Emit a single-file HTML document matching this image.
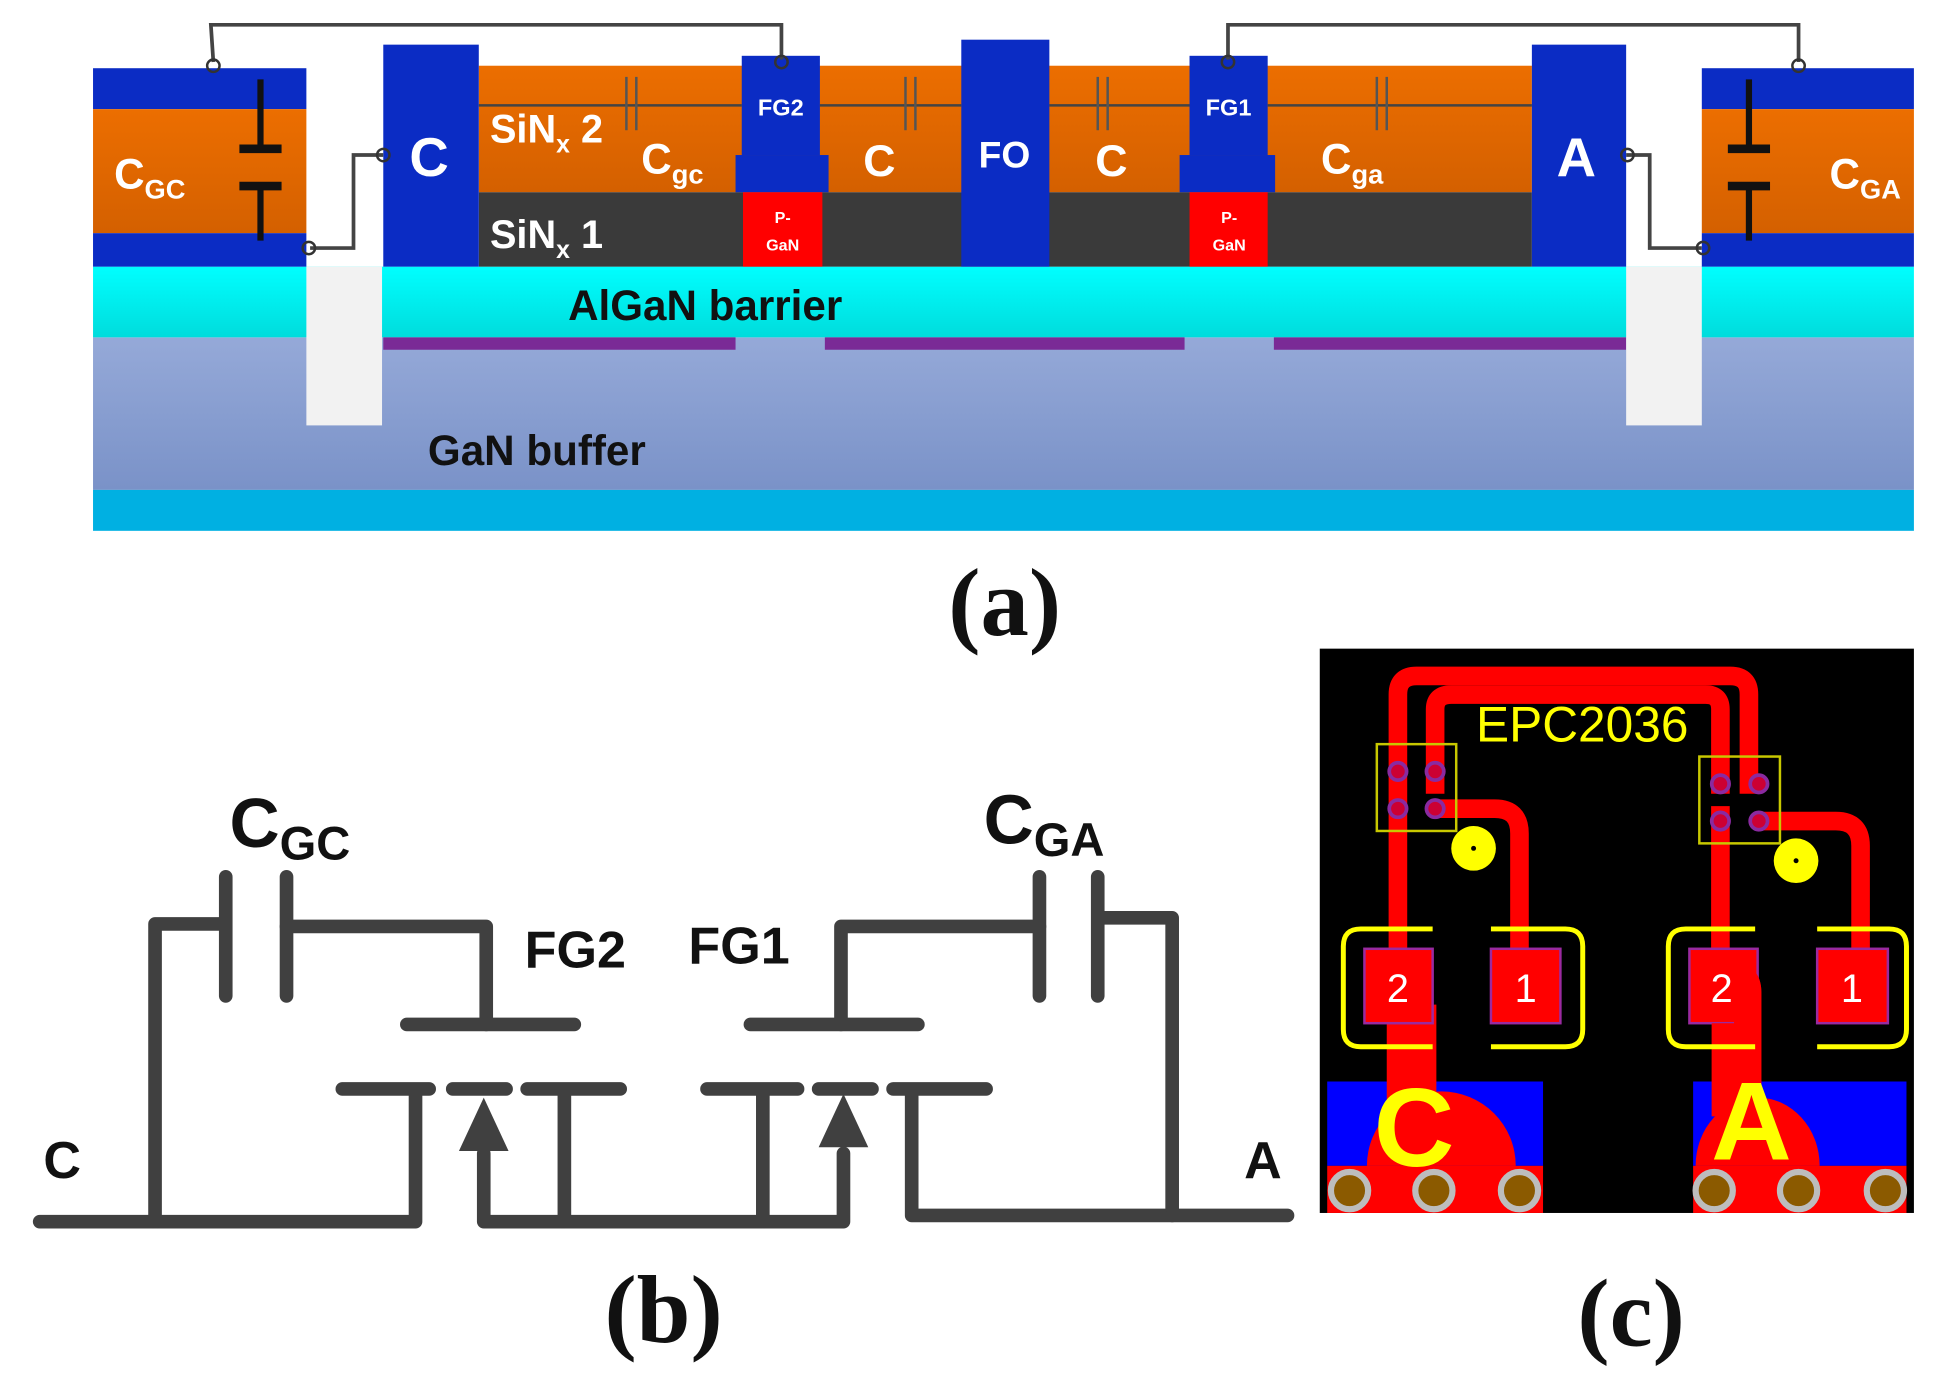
<!DOCTYPE html>
<html><head><meta charset="utf-8"><style>
html,body{margin:0;padding:0;background:#fff;width:1935px;height:1399px;overflow:hidden}
svg{display:block}
.w{font-family:"Liberation Sans",sans-serif;font-weight:bold;fill:#fff}
.k{font-family:"Liberation Sans",sans-serif;font-weight:bold;fill:#111}
.cap{font-family:"Liberation Serif",serif;font-weight:bold;fill:#111}
</style></head><body>
<svg width="1935" height="1399" viewBox="0 0 1560 1128" preserveAspectRatio="none" xmlns="http://www.w3.org/2000/svg">
<defs>
<linearGradient id="gb" x1="0" y1="0" x2="0" y2="1"><stop offset="0" stop-color="#95a9d8"/><stop offset="1" stop-color="#7a92c8"/></linearGradient>
<linearGradient id="cy" x1="0" y1="0" x2="0" y2="1"><stop offset="0" stop-color="#00ffff"/><stop offset="1" stop-color="#00dcdc"/></linearGradient>
<linearGradient id="or" x1="0" y1="0" x2="0" y2="1"><stop offset="0" stop-color="#ec6e00"/><stop offset="1" stop-color="#d46000"/></linearGradient>
</defs>
<rect x="75" y="272" width="1468" height="123" fill="url(#gb)"/>
<rect x="75" y="395" width="1468" height="33" fill="#00b0e2"/>
<rect x="75" y="215" width="1468" height="57" fill="url(#cy)"/>
<rect x="309" y="272" width="284" height="10" fill="#7a2a96"/>
<rect x="665" y="272" width="290" height="10" fill="#7a2a96"/>
<rect x="1027" y="272" width="284" height="10" fill="#7a2a96"/>
<rect x="247" y="215" width="61" height="128" fill="#f2f2f2"/>
<rect x="1311" y="215" width="61" height="128" fill="#f2f2f2"/>
<rect x="75" y="55" width="172" height="33" fill="#0b2cc4"/>
<rect x="75" y="88" width="172" height="100" fill="url(#or)"/>
<rect x="75" y="188" width="172" height="27" fill="#0b2cc4"/>
<rect x="1372" y="55" width="171" height="33" fill="#0b2cc4"/>
<rect x="1372" y="88" width="171" height="100" fill="url(#or)"/>
<rect x="1372" y="188" width="171" height="27" fill="#0b2cc4"/>
<rect x="386" y="53" width="849" height="102" fill="url(#or)"/>
<rect x="386" y="155" width="849" height="60" fill="#3a3a3a"/>
<rect x="309" y="36" width="77" height="179" fill="#0b2cc4"/>
<rect x="1235" y="36" width="76" height="179" fill="#0b2cc4"/>
<rect x="775" y="32" width="71" height="183" fill="#0b2cc4"/>
<rect x="598" y="45" width="63" height="80" fill="#0b2cc4"/>
<rect x="593" y="125" width="75" height="30" fill="#0b2cc4"/>
<rect x="599" y="155" width="64" height="60" fill="#ff0000"/>
<rect x="959" y="45" width="63" height="80" fill="#0b2cc4"/>
<rect x="951" y="125" width="77" height="30" fill="#0b2cc4"/>
<rect x="959" y="155" width="63" height="60" fill="#ff0000"/>
<g stroke="#444" stroke-width="2" fill="none">
<line x1="386" y1="85" x2="598" y2="85"/><line x1="661" y1="85" x2="775" y2="85"/>
<line x1="846" y1="85" x2="959" y2="85"/><line x1="1022" y1="85" x2="1235" y2="85"/>
</g>
<g stroke="#555" stroke-width="2">
<line x1="505" y1="62" x2="505" y2="105"/><line x1="513" y1="62" x2="513" y2="105"/>
<line x1="730" y1="62" x2="730" y2="105"/><line x1="738" y1="62" x2="738" y2="105"/>
<line x1="885" y1="62" x2="885" y2="105"/><line x1="893" y1="62" x2="893" y2="105"/>
<line x1="1110" y1="62" x2="1110" y2="105"/><line x1="1118" y1="62" x2="1118" y2="105"/>
</g>
<g stroke="#111" stroke-width="5">
<line x1="210" y1="64" x2="210" y2="118"/><line x1="210" y1="152" x2="210" y2="194"/>
<line x1="1410" y1="64" x2="1410" y2="118"/><line x1="1410" y1="152" x2="1410" y2="194"/>
<line x1="193" y1="120" x2="227" y2="120" stroke-width="7"/><line x1="193" y1="150" x2="227" y2="150" stroke-width="7"/>
<line x1="1393" y1="120" x2="1427" y2="120" stroke-width="7"/><line x1="1393" y1="150" x2="1427" y2="150" stroke-width="7"/>
</g>
<g stroke="#444" stroke-width="3" fill="none">
<polyline points="172,50 170,20 630,20 630,48"/>
<polyline points="990,48 990,20 1450,20 1450,50"/>
<polyline points="250,200 285,200 285,125 309,125"/>
<polyline points="1311,125 1330,125 1330,200 1372,200"/>
</g>
<g stroke="#333" stroke-width="2" fill="none">
<circle cx="172" cy="53" r="5"/><circle cx="630" cy="50" r="5"/><circle cx="990" cy="50" r="5"/><circle cx="1450" cy="53" r="5"/>
<circle cx="249" cy="200" r="5"/><circle cx="309" cy="125" r="5"/><circle cx="1312" cy="125" r="5"/><circle cx="1373" cy="200" r="5"/>
</g>
<text class="w" x="92" y="152" font-size="34">C<tspan font-size="22" dy="8">GC</tspan></text>
<text class="w" x="1475" y="152" font-size="34">C<tspan font-size="22" dy="8">GA</tspan></text>
<text class="w" x="330" y="142" font-size="44">C</text>
<text class="w" x="1255" y="142" font-size="44">A</text>
<text class="w" x="395" y="115" font-size="32">SiN<tspan font-size="20" dy="8">x</tspan><tspan dy="-8"> 2</tspan></text>
<text class="w" x="395" y="200" font-size="32">SiN<tspan font-size="20" dy="8">x</tspan><tspan dy="-8"> 1</tspan></text>
<text class="w" x="517" y="140" font-size="34">C<tspan font-size="22" dy="8">gc</tspan></text>
<text class="w" x="1065" y="140" font-size="34">C<tspan font-size="22" dy="8">ga</tspan></text>
<text class="w" x="696" y="142" font-size="36">C</text>
<text class="w" x="883" y="142" font-size="36">C</text>
<text class="w" x="789" y="135" font-size="30">FO</text>
<text class="w" x="611" y="93" font-size="19">FG2</text>
<text class="w" x="972" y="93" font-size="19">FG1</text>
<text class="w" x="631" y="180" font-size="13" text-anchor="middle">P-</text>
<text class="w" x="631" y="202" font-size="13" text-anchor="middle">GaN</text>
<text class="w" x="991" y="180" font-size="13" text-anchor="middle">P-</text>
<text class="w" x="991" y="202" font-size="13" text-anchor="middle">GaN</text>
<text class="k" x="458" y="258" font-size="34">AlGaN barrier</text>
<text class="k" x="345" y="375" font-size="34">GaN buffer</text>
<text class="cap" x="810" y="512" font-size="78" text-anchor="middle">(a)</text>
<g stroke="#404040" stroke-width="11" stroke-linecap="round" fill="none" stroke-linejoin="round">
<polyline points="32,985 335,985 335,880"/>
<polyline points="125,985 125,745 180,745"/>
<line x1="182" y1="707" x2="182" y2="803"/><line x1="231" y1="707" x2="231" y2="803"/>
<polyline points="231,747 392,747 392,826"/>
<line x1="328" y1="826" x2="463" y2="826"/>
<line x1="276" y1="878" x2="346" y2="878"/><line x1="365" y1="878" x2="408" y2="878"/><line x1="425" y1="878" x2="500" y2="878"/>
<polyline points="390,930 390,985 680,985 680,930"/>
<line x1="455" y1="880" x2="455" y2="985"/>
<line x1="615" y1="880" x2="615" y2="985"/>
<line x1="570" y1="878" x2="643" y2="878"/><line x1="660" y1="878" x2="703" y2="878"/><line x1="720" y1="878" x2="795" y2="878"/>
<polyline points="735,880 735,980 945,980 945,740 888,740"/>
<line x1="945" y1="980" x2="1038" y2="980"/>
<line x1="838" y1="707" x2="838" y2="803"/><line x1="885" y1="707" x2="885" y2="803"/>
<polyline points="838,747 678,747 678,826"/>
<line x1="605" y1="826" x2="740" y2="826"/>
</g>
<polygon points="370,928 410,928 390,885" fill="#404040"/>
<polygon points="660,925 700,925 680,882" fill="#404040"/>
<text class="k" x="185" y="683" font-size="56">C<tspan font-size="38" dy="10">GC</tspan></text>
<text class="k" x="793" y="680" font-size="56">C<tspan font-size="38" dy="10">GA</tspan></text>
<text class="k" x="423" y="780" font-size="42">FG2</text>
<text class="k" x="555" y="777" font-size="42">FG1</text>
<text class="k" x="35" y="950" font-size="42">C</text>
<text class="k" x="1003" y="950" font-size="42">A</text>
<text class="cap" x="535" y="1082" font-size="78" text-anchor="middle">(b)</text>
<rect x="1064" y="523" width="479" height="455" fill="#000"/>
<g fill="none" stroke="#ff0000" stroke-width="15">
<path d="M1127,650 V560 Q1127,545 1142,545 H1395 Q1410,545 1410,560 V640"/>
<path d="M1157,640 V572 Q1157,560 1170,560 H1375 Q1387,560 1387,572 V640"/>
<path d="M1157,652 H1205 Q1225,652 1225,672 V770"/>
<path d="M1418,662 H1480 Q1500,662 1500,682 V770"/>
<line x1="1127" y1="650" x2="1127" y2="770"/>
<line x1="1387" y1="650" x2="1387" y2="770"/>
</g>
<rect x="1110" y="600" width="64" height="70" fill="none" stroke="#c8c800" stroke-width="2"/>
<rect x="1370" y="610" width="65" height="70" fill="none" stroke="#c8c800" stroke-width="2"/>
<g fill="#cc0033" stroke="#8a2aa0" stroke-width="3">
<circle cx="1127" cy="622" r="7"/><circle cx="1157" cy="622" r="7"/><circle cx="1127" cy="652" r="7"/><circle cx="1157" cy="652" r="7"/>
<circle cx="1387" cy="632" r="7"/><circle cx="1418" cy="632" r="7"/><circle cx="1387" cy="662" r="7"/><circle cx="1418" cy="662" r="7"/>
</g>
<circle cx="1188" cy="684" r="18" fill="#ffff00"/><circle cx="1188" cy="684" r="2" fill="#000"/>
<circle cx="1448" cy="694" r="18" fill="#ffff00"/><circle cx="1448" cy="694" r="2" fill="#000"/>
<rect x="1070" y="872" width="174" height="68" fill="#0000ff"/>
<rect x="1365" y="872" width="172" height="68" fill="#0000ff"/>
<rect x="1070" y="940" width="174" height="38" fill="#ff0000"/>
<rect x="1365" y="940" width="172" height="38" fill="#ff0000"/>
<path d="M1102,940 A60,60 0 0 1 1222,940 Z" fill="#ff0000"/>
<path d="M1367,940 A50,55 0 0 1 1467,940 Z" fill="#ff0000"/>
<rect x="1118" y="810" width="40" height="90" fill="#ff0000"/>
<path d="M1380,900 V800 Q1380,780 1400,780 Q1420,780 1420,800 V900 Z" fill="#ff0000"/>
<g fill="#ff0000" stroke="#9a2aa0" stroke-width="2">
<rect x="1100" y="765" width="55" height="60"/><rect x="1202" y="765" width="56" height="60"/>
<rect x="1362" y="765" width="55" height="60"/><rect x="1465" y="765" width="57" height="60"/>
</g>
<path d="M1398,765 V800 Q1398,780 1410,780 Q1420,785 1420,800 V900 H1380 V825 H1398" fill="#ff0000"/>
<g fill="none" stroke="#ffff00" stroke-width="4">
<path d="M1155,749 H1097 Q1083,749 1083,763 V830 Q1083,844 1097,844 H1155"/>
<path d="M1202,749 H1262 Q1276,749 1276,763 V830 Q1276,844 1262,844 H1202"/>
<path d="M1415,749 H1359 Q1345,749 1345,763 V830 Q1345,844 1359,844 H1415"/>
<path d="M1465,749 H1523 Q1537,749 1537,763 V830 Q1537,844 1523,844 H1465"/>
</g>
<g font-family="Liberation Sans,sans-serif" fill="#fff" font-size="32" text-anchor="middle">
<text x="1127" y="808">2</text><text x="1230" y="808">1</text><text x="1388" y="808">2</text><text x="1493" y="808">1</text>
</g>
<g fill="#8b5a00" stroke="#bdbdbd" stroke-width="5">
<circle cx="1088" cy="960" r="15"/><circle cx="1156" cy="960" r="15"/><circle cx="1225" cy="960" r="15"/>
<circle cx="1382" cy="960" r="15"/><circle cx="1450" cy="960" r="15"/><circle cx="1520" cy="960" r="15"/>
</g>
<text x="1140" y="940" font-family="Liberation Sans,sans-serif" font-size="90" fill="#ffff00" text-anchor="middle" font-weight="bold">C</text>
<text x="1412" y="935" font-family="Liberation Sans,sans-serif" font-size="90" fill="#ffff00" text-anchor="middle" font-weight="bold">A</text>
<text x="1190" y="598" font-family="Liberation Sans,sans-serif" font-size="40" fill="#ffff00">EPC2036</text>
<text class="cap" x="1315" y="1085" font-size="78" text-anchor="middle">(c)</text>
</svg>
</body></html>
